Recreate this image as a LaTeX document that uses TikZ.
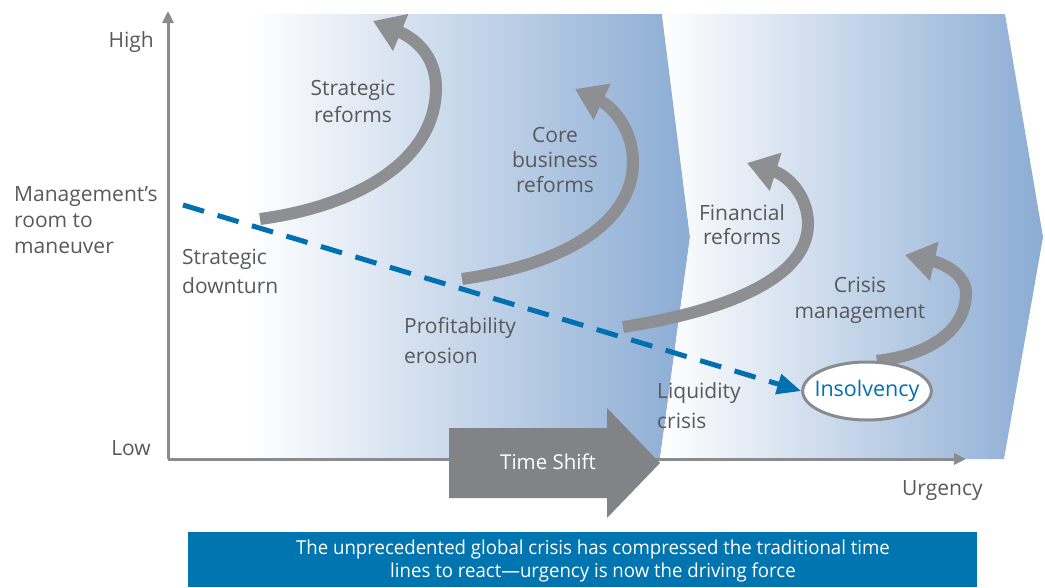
\documentclass[tikz,border=0pt]{standalone}
\usepackage{fontspec}
\setmainfont{Open Sans}
\newfontfamily\bannerfont[FakeStretch=0.97]{Open Sans}
\usetikzlibrary{arrows.meta,shapes.geometric}
\definecolor{chevblue}{RGB}{139,172,212}
\definecolor{arrowgray}{RGB}{142,143,146}
\definecolor{axisgray}{RGB}{138,139,142}
\definecolor{labelgray}{RGB}{88,89,91}
\definecolor{dashblue}{RGB}{0,112,176}
\definecolor{bannerblue}{RGB}{0,117,176}
\definecolor{shiftgray}{RGB}{130,131,135}
\pgfdeclarelayer{front}
\pgfsetlayers{main,front}
\begin{document}
\begin{tikzpicture}[x=1pt,y=-1pt,
  lbl/.style={text=labelgray,font=\fontsize{21}{#1}\selectfont,inner sep=0pt},
  lbl/.default=26,
  axisline/.style={draw=axisgray,line width=3pt,-{Triangle[length=12pt,width=11pt]}},
  bigarrow/.style={draw=arrowgray,line width=12pt,-{Triangle[length=30pt,width=38pt]}},
  dashline/.style={draw=dashblue,line width=5pt,dash pattern=on 22pt off 14pt,-{Triangle[length=24pt,width=20pt]}},
  chevron/.style={left color=white,right color=chevblue},
  ell/.style={ellipse,draw=axisgray,line width=3pt,fill=white,minimum width=126pt,minimum height=58pt,inner xsep=-7pt,inner ysep=0pt,text=dashblue,font=\fontsize{21.5}{26}\selectfont}
]
\useasboundingbox (0,0) rectangle (1045,587);
% chevrons
\shade[chevron] (250,14) -- (662,14) -- (690,237) -- (660,459) -- (250,459) -- cycle;
\shade[chevron] (662,14) -- (1005,14) -- (1043,237) -- (1004,459) -- (660,459) -- (690,237) -- cycle;
% axes
\coordinate (origin) at (168,459);
\coordinate (ytop) at (168,11);
\coordinate (xend) at (966,459);
\draw[axisline] (origin) -- (ytop);
\draw[axisline] (origin) -- (xend);
% time shift arrow
\fill[shiftgray] (449,428) -- (607,428) -- (607,408) -- (660,463) -- (607,518) -- (607,498) -- (449,498) -- cycle;
\node[text=white,font=\fontsize{20.5}{26}\selectfont,inner sep=0pt] (shift) at (548,462) {Time Shift};
% insolvency
\begin{pgfonlayer}{front}
\node[ell] (ins) at (867,391) {\raisebox{-1.5pt}{Insolvency}};
\end{pgfonlayer}
% dashed line
\coordinate (dstart) at (183,205);
\draw[dashline] (dstart) -- (ins.west);
% gray arrows
\coordinate (a1s) at (260,219);
\coordinate (a1e) at (373,21);
\draw[bigarrow] (a1s) .. controls (358,206) and (436,160) .. (436,88) .. controls (436,55) and (414,38) .. (a1e);
\coordinate (a2s) at (462,279);
\coordinate (a2e) at (575,89);
\draw[bigarrow] (a2s) .. controls (560,265) and (633,225) .. (633,162) .. controls (633,128) and (611,106) .. (a2e);
\coordinate (a3s) at (623,327);
\coordinate (a3e) at (747,163);
\draw[bigarrow] (a3s) .. controls (720,312) and (808,280) .. (808,224) .. controls (808,194) and (786,175) .. (a3e);
\coordinate (a4e) at (905,255);
\draw[bigarrow] (ins.72) .. controls (930,355) and (966,330) .. (966,293) .. controls (966,274) and (942,263) .. (a4e);
% labels
\node[lbl,anchor=base east] (high) at (154,47) {High};
\node[lbl,anchor=base east] (low) at (151,455) {Low};
\node[lbl,anchor=base west] (urg) at (902,495) {Urgency};
\node[lbl=26,anchor=base west,align=left] (mgmt) at (14,253) {Management’s\\room to\\maneuver};
\node[lbl=29,anchor=base west,align=left] (sd) at (182,293) {Strategic\\downturn};
\node[lbl=30,anchor=base west,align=left] (pe) at (404,363) {Profitability\\erosion};
\node[lbl=30,anchor=base west,align=left] (lc) at (657,428) {Liquidity\\crisis};
\node[lbl=27,anchor=base,align=center] (sr) at (353,122) {Strategic\\reforms};
\node[lbl=25,anchor=base,align=center] (cbr) at (555,192) {Core\\business\\reforms};
\node[lbl=24,anchor=base,align=center] (fr) at (742,244) {Financial\\reforms};
\node[lbl=26,anchor=base,align=center] (cm) at (860,318) {Crisis\\management};
% banner
\fill[bannerblue] (188,532) rectangle (977,587);
\node[text=white,font=\bannerfont\fontsize{19.2}{23}\selectfont,align=center,inner sep=0pt] (banner) at (593,561.5) {The unprecedented global crisis has compressed the traditional time\\lines to react—urgency is now the driving force};
\end{tikzpicture}
\end{document}
